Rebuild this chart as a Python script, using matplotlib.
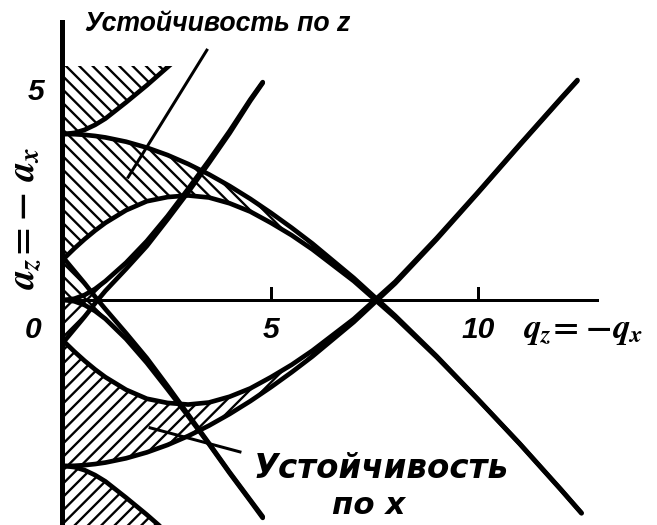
import numpy as np
import matplotlib
matplotlib.use("Agg")
import matplotlib.pyplot as plt
from matplotlib.patches import Rectangle

plt.rcParams["mathtext.fontset"] = "custom"
plt.rcParams["mathtext.it"] = "STIXGeneral:italic:bold"
plt.rcParams["mathtext.rm"] = "STIXGeneral:bold"
plt.rcParams["hatch.linewidth"] = 1.4

# boundary curves a(q) of the stability zones along z
q_main = [0, 0.25, 0.5, 0.75, 1, 1.5, 2, 2.5, 3, 3.5, 4, 4.5, 5, 5.5, 6, 7, 8, 9, 10, 11, 12, 12.5]
za1 = [1, 1.242, 1.467, 1.673, 1.859, 2.163, 2.379, 2.48, 2.519, 2.47, 2.33, 2.13, 1.858, 1.56, 1.22,
       0.456, -0.421, -1.375, -2.399, -3.46, -4.57, -5.14]
zb2 = [4, 3.995, 3.979, 3.953, 3.917, 3.814, 3.672, 3.493, 3.277, 3.028, 2.747, 2.437, 2.099, 1.74, 1.36,
       0.53, -0.379, -1.352, -2.391, -3.45, -4.56, -5.13]

q_low = [0, 0.25, 0.5, 0.75, 1, 1.5, 2, 2.5, 3, 3.5, 4, 4.5, 4.8]
za0 = [0, -0.031, -0.122, -0.266, -0.455, -0.94, -1.514, -2.15, -2.80, -3.47, -4.17, -4.84, -5.25]
zb1 = [1, 0.70, 0.40, 0.08, -0.22, -0.80, -1.40, -2.07, -2.76, -3.45, -4.15, -4.82, -5.22]

q_high = [0, 0.25, 0.5, 0.75, 1, 1.5, 2, 2.5, 3]
za2 = [4, 4.026, 4.101, 4.219, 4.371, 4.763, 5.173, 5.61, 6.046]

# boundary curves along x (a_x = -a_z)
q_x = [0, 0.25, 0.5, 0.75, 1, 1.5, 2, 2.5, 3, 3.5, 4, 4.5, 5, 5.5, 6, 7, 8, 9, 10, 11, 12, 12.4]
xa1 = [-1, -1.242, -1.467, -1.673, -1.859, -2.163, -2.379, -2.48, -2.519, -2.47, -2.33, -2.13, -1.858,
       -1.56, -1.22, -0.456, 0.44, 1.49, 2.60, 3.74, 4.86, 5.3]
xb2 = [-4, -3.995, -3.979, -3.953, -3.917, -3.814, -3.672, -3.493, -3.277, -3.028, -2.747, -2.437,
       -2.099, -1.74, -1.36, -0.53, 0.40, 1.46, 2.58, 3.72, 4.84, 5.28]
xa0 = [0, 0.031, 0.122, 0.266, 0.455, 0.90, 1.42, 2.02, 2.68, 3.36, 4.07, 4.83, 5.25]
xb1 = [-1, -0.70, -0.40, -0.08, 0.22, 0.75, 1.30, 1.94, 2.60, 3.30, 4.02, 4.80, 5.23]
xa2 = [-v for v in za2]

a_top = 5.64          # upper edge of the hatched zone above a2
x_ticks = [5, 10]
x_tick_labels = ["5", "10"]
y_tick_labels = ["0", "5"]

q_main, za1, zb2 = map(np.array, (q_main, za1, zb2))
q_x, xa1, xb2 = map(np.array, (q_x, xa1, xb2))
q_low, za0, zb1, xa0, xb1 = map(np.array, (q_low, za0, zb1, xa0, xb1))
q_high, za2, xa2 = map(np.array, (q_high, za2, xa2))

fig = plt.figure(figsize=(657 / 120, 525 / 120), dpi=120)
ax = fig.add_axes([0, 0, 1, 1])
ax.set_xlim(-64 / 41.4, (657 - 64) / 41.4)
ax.set_ylim(-225 / 41.5, 300 / 41.5)
ax.axis("off")

LW = 2.8
K = "black"
HZ = "\\\\\\"   # z-stable zones
HX = "///"      # x-stable zones

def hatch(x, lo, hi, pattern, clip=None):
    p = ax.fill_between(x, lo, hi, facecolor="none", edgecolor=K, linewidth=0, hatch=pattern)
    if clip is not None:
        p.set_clip_path(clip)

top_clip = Rectangle((-1, -20), 20, 20 + a_top, transform=ax.transData)
mz = q_main <= 7.5
mx = q_x <= 7.5
hatch(q_low, za0, np.maximum(zb1, za0), HZ)
hatch(q_main[mz], za1[mz], zb2[mz], HZ)
hatch(q_high, za2, np.full_like(za2, a_top), HZ, clip=top_clip)

hatch(q_low, np.minimum(xb1, xa0), xa0, HX)
hatch(q_x[mx], xb2[mx], xa1[mx], HX)
hatch(q_high, np.full_like(xa2, -8), xa2, HX)

curves = [(q_main, za1), (q_main, zb2), (q_low, za0), (q_low, zb1),
          (q_x, xa1), (q_x, xb2), (q_low, xa0), (q_low, xb1), (q_high, xa2)]
for x, y in curves:
    ax.plot(x, y, color=K, lw=LW, solid_capstyle="round")
ln, = ax.plot(q_high, za2, color=K, lw=LW, solid_capstyle="round")
ln.set_clip_path(top_clip)

# axes
ax.plot([-0.05, -0.05], [-6, 6.7], color=K, lw=3.0)
ax.plot([-0.05, 12.87], [0, 0], color=K, lw=1.8)
for t in x_ticks:
    ax.plot([t, t], [0, 0.3], color=K, lw=1.8)

bf = dict(family="Liberation Sans", weight="bold", style="italic", color=K)
for t, s in zip(x_ticks, x_tick_labels):
    ax.text(t, -0.72, s, ha="center", va="center", fontsize=18, **bf)
ax.text(-0.75, -0.72, y_tick_labels[0], ha="center", va="center", fontsize=18, **bf)
ax.text(-0.68, 5.0, y_tick_labels[1], ha="center", va="center", fontsize=18, **bf)

ax.text(11.08, -0.72, r"$q_z\!=\!-\!q_x$", ha="left", va="center", fontsize=21, color=K)
ax.text(-0.94, 1.98, r"$a_z\!=\!-\,a_x$", ha="center", va="center", rotation=90, fontsize=23, color=K)

ax.text(0.51, 6.65, "Устойчивость по z", ha="left", va="center", fontsize=16, **bf)
bf2 = dict(family="DejaVu Sans", weight="bold", style="italic", color=K)
ax.text(4.57, -4.05, "Устойчивость", ha="left", va="center", fontsize=19.5, **bf2)
ax.text(6.47, -4.94, "по x", ha="left", va="center", fontsize=18.5, **bf2)

# leader lines to the labelled zones
ax.plot([3.45, 1.55], [6.02, 2.96], color=K, lw=1.8)
ax.plot([4.25, 2.08], [-3.66, -3.08], color=K, lw=1.8)

fig.savefig("out.png", dpi=120, facecolor="white")
